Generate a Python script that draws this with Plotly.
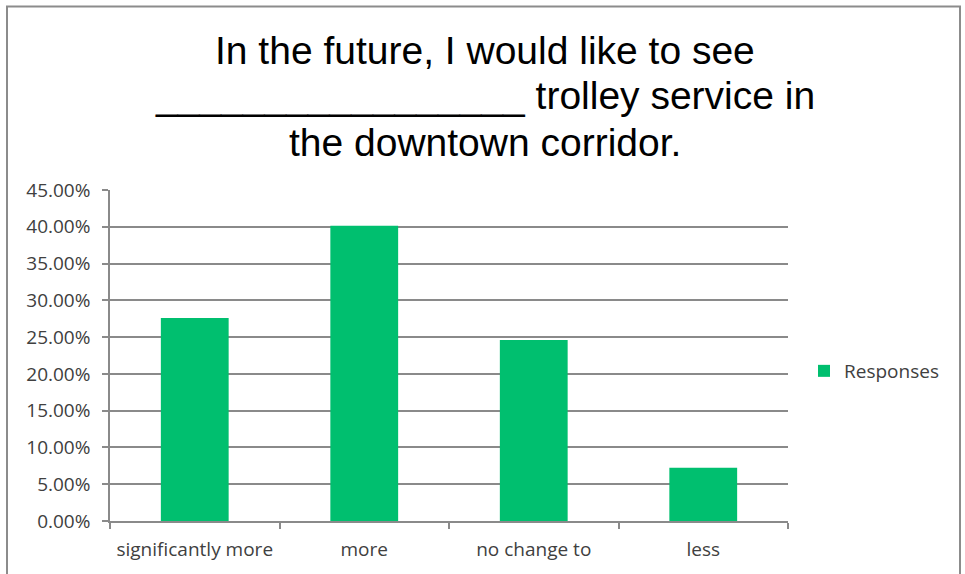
import plotly.graph_objects as go

categories = ["significantly more", "more", "no change to", "less"]
responses = [0.276, 0.4015, 0.246, 0.0725]
series_name = "Responses"
title_lines = ["In the future, I would like to see",
               "_________________ trolley service in",
               "the downtown corridor."]

GREEN = "#00BF6F"
GRID = "#8a8a8a"
TXT = "#404040"

fig = go.Figure()
fig.add_trace(go.Bar(x=categories, y=responses, name=series_name,
                     marker=dict(color=GREEN, line=dict(width=0)),
                     showlegend=True))

W, H = 965, 574
L, R, T, B = 110, 177, 190, 53
pw, ph = W - L - R, H - T - B

def px2paper_x(px):
    return (px - L) / pw

def px2paper_y(py):
    return (H - B - py) / ph

title_centers_px = [50, 96, 142]
annotations = [dict(text=t, xref="paper", yref="paper",
                    x=px2paper_x(W / 2 + 2), y=px2paper_y(cy),
                    xanchor="center", yanchor="middle", showarrow=False,
                    font=dict(family="Liberation Sans, Arial", size=39, color="black"))
               for t, cy in zip(title_lines, title_centers_px)]

fig.update_layout(
    width=W, height=H,
    margin=dict(l=L, r=R, t=T, b=B, autoexpand=False),
    paper_bgcolor="white", plot_bgcolor="white",
    bargap=0.6,
    annotations=annotations,
    xaxis=dict(showline=True, linecolor=GRID, linewidth=1.5,
               ticks="outside", tickson="boundaries", ticklen=6, tickcolor=GRID, tickwidth=1.5,
               tickfont=dict(family="Open Sans", size=19, color=TXT),
               ticklabelstandoff=10, tickangle=0, automargin=False,
               showgrid=False, zeroline=False),
    yaxis=dict(range=[0, 0.45], dtick=0.05, tickformat=".2%",
               showline=True, linecolor=GRID, linewidth=1.5,
               ticks="outside", ticklen=6, tickcolor=GRID, tickwidth=1.5,
               showgrid=True, gridcolor=GRID, gridwidth=1.5, zeroline=False,
               tickfont=dict(family="Open Sans", size=19, color=TXT),
               ticklabelstandoff=8, automargin=False),
    legend=dict(x=px2paper_x(804), xanchor="left", y=px2paper_y(371), yanchor="middle",
                font=dict(family="Open Sans", size=19, color=TXT),
                bgcolor="rgba(0,0,0,0)"),
    shapes=[dict(type="rect", xref="paper", yref="paper",
                 x0=px2paper_x(7), x1=px2paper_x(960),
                 y0=px2paper_y(590), y1=px2paper_y(6.5),
                 line=dict(color="#8c8c8c", width=2), fillcolor="rgba(0,0,0,0)", layer="below")],
)

fig.write_html("out.html", config={"displayModeBar": False},
               post_script="document.body.style.margin='0';")
